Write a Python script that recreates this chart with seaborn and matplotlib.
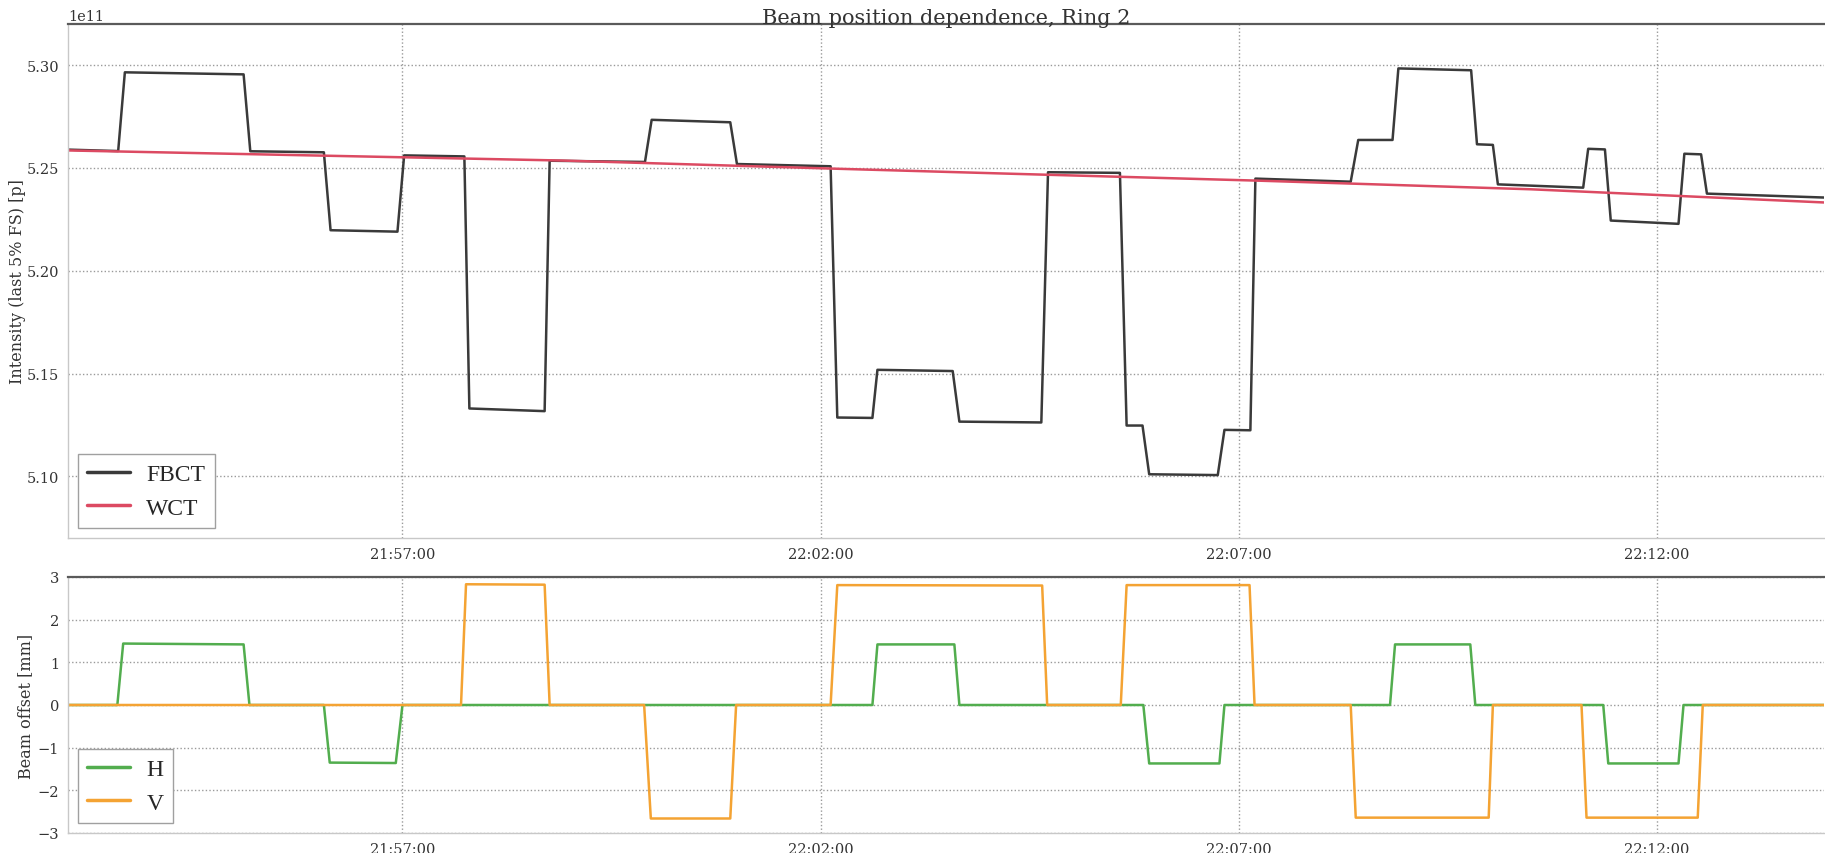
import matplotlib
matplotlib.use("Agg")
import matplotlib.pyplot as plt
import matplotlib.dates as mdates
import numpy as np
import pandas as pd
import seaborn as sns

# ---------------- data (minutes after 21:53:00) ----------------
START = "2015-06-01 21:53:00"

fbct_t = [0, 0.60, 0.68, 2.10, 2.18, 3.06, 3.14, 3.94, 4.02, 4.74, 4.80, 5.70, 5.76,
          6.90, 6.98, 7.92, 8.00, 9.12, 9.20, 9.62, 9.68, 10.58, 10.66, 11.64, 11.72,
          12.58, 12.66, 12.85, 12.93, 13.75, 13.83, 14.14, 14.20, 15.34, 15.43, 15.84,
          15.91, 16.78, 16.85, 17.04, 17.10, 18.12, 18.18, 18.38, 18.45, 19.26, 19.33,
          19.53, 19.60, 21.0]
fbct_e11 = [5.2589, 5.2582, 5.2965, 5.2955, 5.2581, 5.2576, 5.2197, 5.2190, 5.2561,
            5.2556, 5.1330, 5.1317, 5.2535, 5.2529, 5.2734, 5.2722, 5.2519, 5.2508,
            5.1286, 5.1284, 5.1518, 5.1512, 5.1266, 5.1262, 5.2479, 5.2476, 5.1247,
            5.1247, 5.1010, 5.1006, 5.1226, 5.1224, 5.2448, 5.2433, 5.2636, 5.2636,
            5.2984, 5.2975, 5.2615, 5.2612, 5.2420, 5.2404, 5.2593, 5.2590, 5.2244,
            5.2228, 5.2569, 5.2566, 5.2375, 5.2356]

wct_t = [0, 5.9, 9.11, 11.25, 14.24, 17.5, 21.0]
wct_e11 = [5.2585, 5.2536, 5.2497, 5.2472, 5.2438, 5.2396, 5.2332]

h_t = [0, 0.59, 0.66, 2.10, 2.17, 3.06, 3.13, 3.92, 4.00, 9.62, 9.68, 10.60, 10.66,
       12.86, 12.93, 13.77, 13.83, 15.81, 15.87, 16.77, 16.83, 18.36, 18.42, 19.26,
       19.32, 21.0]
h_mm = [0, 0, 1.44, 1.42, 0, 0, -1.35, -1.36, 0, 0, 1.42, 1.42, 0, 0, -1.37, -1.37,
        0, 0, 1.42, 1.42, 0, 0, -1.37, -1.37, 0, 0]

v_t = [0, 4.70, 4.76, 5.70, 5.76, 6.89, 6.97, 7.92, 7.99, 9.12, 9.20, 11.65, 11.71,
       12.59, 12.66, 14.13, 14.19, 15.34, 15.40, 16.99, 17.04, 18.10, 18.16, 19.49,
       19.55, 21.0]
v_mm = [0, 0, 2.83, 2.82, 0, 0, -2.66, -2.66, 0, 0, 2.81, 2.80, 0, 0, 2.81, 2.81,
        0, 0, -2.64, -2.64, 0, 0, -2.64, -2.64, 0, 0]

top_labels = ["FBCT", "WCT"]
bot_labels = ["H", "V"]
top_colors = ["#3a3a3a", "#dc4a62"]
bot_colors = ["#52ad4e", "#f4a333"]
title = "Beam position dependence, Ring 2"
ylab_top = "Intensity (last 5% FS) [p]"
ylab_bot = "Beam offset [mm]"

# ---------------- build frames ----------------
t0 = pd.Timestamp(START)
def to_time(mins):
    return [t0 + pd.Timedelta(minutes=m) for m in mins]

df_top = pd.concat([
    pd.DataFrame({"time": to_time(fbct_t), "value": np.array(fbct_e11) * 1e11, "series": "FBCT"}),
    pd.DataFrame({"time": to_time(wct_t), "value": np.array(wct_e11) * 1e11, "series": "WCT"}),
], ignore_index=True)
df_bot = pd.concat([
    pd.DataFrame({"time": to_time(h_t), "value": h_mm, "series": "H"}),
    pd.DataFrame({"time": to_time(v_t), "value": v_mm, "series": "V"}),
], ignore_index=True)

sns.set_style("white")
plt.rcParams["font.family"] = ["DejaVu Serif"]
plt.rcParams["axes.unicode_minus"] = True

W, H = 1825, 854
fig = plt.figure(figsize=(W / 100, H / 100), dpi=100)
ax1 = fig.add_axes([68 / W, 1 - 539 / H, (W - 69) / W, (539 - 25) / H])
ax2 = fig.add_axes([68 / W, 1 - 834 / H, (W - 69) / W, (834 - 578) / H])

sns.lineplot(data=df_top, x="time", y="value", hue="series", hue_order=top_labels,
             palette=top_colors, estimator=None, sort=False, linewidth=1.8, ax=ax1)
sns.lineplot(data=df_bot, x="time", y="value", hue="series", hue_order=bot_labels,
             palette=bot_colors, estimator=None, sort=False, linewidth=1.8, ax=ax2)

xmin = t0
xmax = t0 + pd.Timedelta(minutes=21)
for ax in (ax1, ax2):
    ax.set_xlim(xmin, xmax)
    ax.xaxis.set_major_locator(mdates.MinuteLocator(byminute=[2, 7, 12, 17, 22, 27, 32, 37, 42, 47, 52, 57]))
    ax.xaxis.set_major_formatter(mdates.DateFormatter("%H:%M:%S"))
    ax.grid(True, linestyle=(0, (1.0, 1.6)), color="#9a9a9a", linewidth=1.0)
    ax.set_xlabel("")
    for s in ("left", "bottom"):
        ax.spines[s].set_color("#c8c8c8")
        ax.spines[s].set_linewidth(1.0)
    ax.spines["right"].set_visible(False)
    ax.spines["top"].set_color("#5a5a5a")
    ax.spines["top"].set_linewidth(1.6)
    ax.tick_params(axis="both", labelsize=10.5, length=3, color="#bbbbbb", colors="#333333")

ax1.set_ylim(5.07e11, 5.32e11)
ax1.set_yticks(np.array([5.10, 5.15, 5.20, 5.25, 5.30]) * 1e11)
ax1.yaxis.get_offset_text().set_fontsize(10.5)
ax2.set_ylim(-3, 3)
ax2.set_yticks([-3, -2, -1, 0, 1, 2, 3])

ax1.set_ylabel(ylab_top, fontsize=11.5, color="#333333", labelpad=0)
ax2.set_ylabel(ylab_bot, fontsize=11.5, color="#333333", labelpad=2)
ax1.set_title(title, fontsize=15, color="#333333", pad=1)

leg_kw = dict(loc="lower left", fancybox=False, framealpha=1, edgecolor="#a0a0a0",
              prop={"family": "Liberation Serif", "size": 17}, handlelength=1.8,
              borderaxespad=0.42, handletextpad=0.7)
ax1.legend(**leg_kw)
ax2.legend(**leg_kw)
for leg in (ax1.get_legend(), ax2.get_legend()):
    for ln in leg.get_lines():
        ln.set_linewidth(2.5)

fig.savefig("out.png", dpi=100)
